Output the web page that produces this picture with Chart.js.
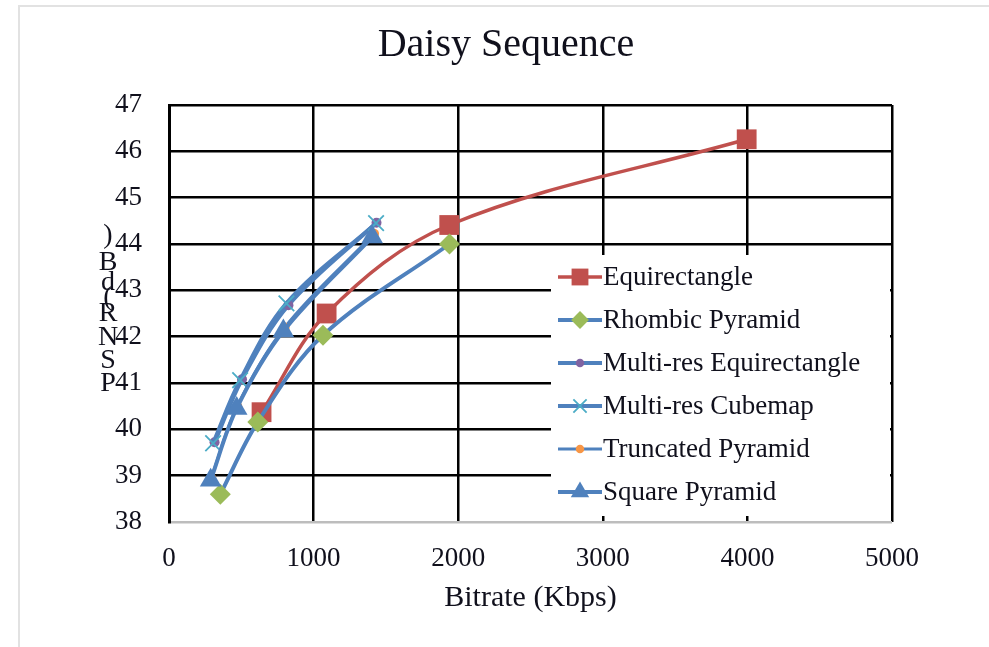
<!DOCTYPE html>
<html>
<head>
<meta charset="utf-8">
<title>Daisy Sequence</title>
<script src="https://cdn.jsdelivr.net/npm/chart.js@4/dist/chart.umd.min.js"></script>
<style>
    html, body { margin: 0; padding: 0; background: #fff; }
    #wrap { position: relative; width: 989px; height: 647px; overflow: hidden; }
    #frame-top { position: absolute; left: 18px; top: 5px; width: 971px; height: 2px; background: #e2e2e2; }
    #frame-left { position: absolute; left: 18px; top: 5px; width: 2px; height: 642px; background: #e2e2e2; }
    canvas { position: absolute; left: 0; top: 0; }
</style>
</head>
<body>
<div id="wrap">
    <div id="frame-top"></div>
    <div id="frame-left"></div>
    <canvas id="psnr-chart" width="989" height="647"></canvas>
</div>
<script>
// Series values (bitrate in Kbps, PSNR in dB)
const chartTitle = 'Daisy Sequence';
const seriesNames = ['Equirectangle', 'Rhombic Pyramid', 'Multi-res Equirectangle', 'Multi-res Cubemap', 'Truncated Pyramid', 'Square Pyramid'];

const equirectBitrate = [640, 1090, 1938, 3995];
const equirectPsnr = [40.37, 42.5, 44.41, 46.26];

const rhombicBitrate = [355, 614, 1065, 1940];
const rhombicPsnr = [38.6, 40.16, 42.03, 44.0];

const multiEquirectBitrate = [315, 505, 826, 1435];
const multiEquirectPsnr = [39.72, 41.08, 42.68, 44.46];

const multiCubemapBitrate = [305, 492, 812, 1432];
const multiCubemapPsnr = [39.7, 41.06, 42.72, 44.45];

const truncatedBitrate = [292, 472, 800, 1418];
const truncatedPsnr = [38.95, 40.5, 42.2, 44.22];

const squareBitrate = [288, 468, 791, 1405];
const squarePsnr = [38.9, 40.45, 42.12, 44.15];

const xTicks = [0, 1000, 2000, 3000, 4000, 5000];
const yTicks = [38, 39, 40, 41, 42, 43, 44, 45, 46, 47];
const yTitleLetters = ['P', 'S', 'N', 'R', '(', 'd', 'B', ')'];

const toPoints = (xs, ys) => xs.map((x, i) => ({ x: x, y: ys[i] }));

const serif = '"Liberation Serif", "Times New Roman", serif';
const blueLine = '#4F81BD';
const textColor = '#10101c';

const datasets = [
    {
        label: seriesNames[0],
        data: toPoints(equirectBitrate, equirectPsnr),
        borderColor: '#C0504D', borderWidth: 3.5,
        pointStyle: 'rect', pointRadius: 14,
        pointBackgroundColor: '#C0504D', pointBorderColor: '#C0504D', pointBorderWidth: 0,
        order: 6
    },
    {
        label: seriesNames[1],
        data: toPoints(rhombicBitrate, rhombicPsnr),
        borderColor: blueLine, borderWidth: 4,
        pointStyle: 'rectRot', pointRadius: 10.5,
        pointBackgroundColor: '#9BBB59', pointBorderColor: '#9BBB59', pointBorderWidth: 0,
        order: 5
    },
    {
        label: seriesNames[2],
        data: toPoints(multiEquirectBitrate, multiEquirectPsnr),
        borderColor: blueLine, borderWidth: 4,
        pointStyle: 'circle', pointRadius: 5,
        pointBackgroundColor: '#8064A2', pointBorderColor: '#8064A2', pointBorderWidth: 0,
        order: 4
    },
    {
        label: seriesNames[3],
        data: toPoints(multiCubemapBitrate, multiCubemapPsnr),
        borderColor: blueLine, borderWidth: 4,
        pointStyle: 'crossRot', pointRadius: 11,
        pointBackgroundColor: '#4BACC6', pointBorderColor: '#4BACC6', pointBorderWidth: 1.8,
        order: 3
    },
    {
        label: seriesNames[4],
        data: toPoints(truncatedBitrate, truncatedPsnr),
        borderColor: blueLine, borderWidth: 3,
        pointStyle: 'circle', pointRadius: 5,
        pointBackgroundColor: '#F79646', pointBorderColor: '#F79646', pointBorderWidth: 0,
        order: 2
    },
    {
        label: seriesNames[5],
        data: toPoints(squareBitrate, squarePsnr),
        borderColor: blueLine, borderWidth: 4,
        pointStyle: 'triangle', pointRadius: 12.5,
        pointBackgroundColor: blueLine, pointBorderColor: blueLine, pointBorderWidth: 0,
        order: 1
    }
];
datasets.forEach(d => { d.tension = 0.35; d.fill = false; d.pointHoverRadius = d.pointRadius; });

// Legend box drawn inside the plot, covering the grid like Excel does
const insideLegend = {
    id: 'insideLegend',
    afterDraw(chart) {
        const { ctx, chartArea } = chart;
        const left = chartArea.left + 382;
        const top = chartArea.top + 150;
        const right = chartArea.right - 2;
        const bottom = chartArea.bottom - 6;
        ctx.save();
        ctx.fillStyle = '#fff';
        ctx.fillRect(left, top, right - left, bottom - top);

        datasets.forEach((d, i) => {
            const y = top + 22 + i * 43;
            ctx.strokeStyle = d.borderColor;
            ctx.lineWidth = d.borderWidth;
            ctx.beginPath();
            ctx.moveTo(left + 7, y);
            ctx.lineTo(left + 51, y);
            ctx.stroke();
            ctx.fillStyle = d.pointBackgroundColor;
            ctx.strokeStyle = d.pointBorderColor;
            ctx.lineWidth = d.pointBorderWidth || 0;
            Chart.helpers.drawPoint(ctx, {
                pointStyle: d.pointStyle,
                radius: d.pointRadius * 0.85,
                rotation: 0,
                borderWidth: d.pointBorderWidth || 0
            }, left + 29, y);
            ctx.fillStyle = textColor;
            ctx.font = '27px ' + serif;
            ctx.textAlign = 'left';
            ctx.textBaseline = 'middle';
            ctx.fillText(d.label, left + 52, y + 1);
        });
        ctx.restore();
    }
};

// Title and the y title (a column of upright letters) sit where Excel put them
const extraText = {
    id: 'extraText',
    afterDraw(chart) {
        const { ctx, chartArea } = chart;
        ctx.save();
        ctx.fillStyle = textColor;
        ctx.textAlign = 'center';
        ctx.textBaseline = 'middle';

        ctx.font = '40px ' + serif;
        ctx.fillText(chartTitle, 506, 45);

        const offsets = [279, 256, 233, 209, 193, 178, 158, 131];
        ctx.font = '28px ' + serif;
        yTitleLetters.forEach((ch, i) => {
            ctx.fillText(ch, 108, chartArea.top + offsets[i]);
        });
        ctx.restore();
    }
};

new Chart(document.getElementById('psnr-chart'), {
    type: 'line',
    data: { datasets: datasets },
    options: {
        responsive: false,
        animation: false,
        devicePixelRatio: 1,
        layout: { padding: { left: 0, right: 97, top: 105, bottom: 0 } },
        plugins: {
            legend: { display: false },
            tooltip: { enabled: false },
            title: { display: false }
        },
        scales: {
            x: {
                type: 'linear',
                min: 0,
                max: 5000,
                afterBuildTicks: (scale) => { scale.ticks = xTicks.map(v => ({ value: v })); },
                afterFit: (scale) => { scale.height = 125; },
                grid: {
                    color: '#000',
                    lineWidth: 2.5,
                    drawTicks: false
                },
                border: { display: false },
                ticks: {
                    color: textColor,
                    padding: 21,
                    font: { family: serif, size: 27 },
                    callback: (value) => String(value)
                },
                title: {
                    display: true,
                    text: 'Bitrate (Kbps)',
                    color: textColor,
                    font: { family: serif, size: 30 },
                    padding: { top: 0, bottom: 31 }
                }
            },
            y: {
                min: 38,
                max: 47,
                afterBuildTicks: (scale) => { scale.ticks = yTicks.map(v => ({ value: v })); },
                afterFit: (scale) => { scale.width = 169; },
                grid: {
                    color: (c) => (c.tick && c.tick.value === 38 ? '#bdbdbd' : '#000'),
                    lineWidth: 2.5,
                    drawTicks: false
                },
                border: { display: true, color: '#000', width: 3 },
                ticks: {
                    color: textColor,
                    padding: 27,
                    font: { family: serif, size: 27 },
                    callback: (value) => String(value)
                }
            }
        }
    },
    plugins: [insideLegend, extraText]
});
</script>
</body>
</html>
